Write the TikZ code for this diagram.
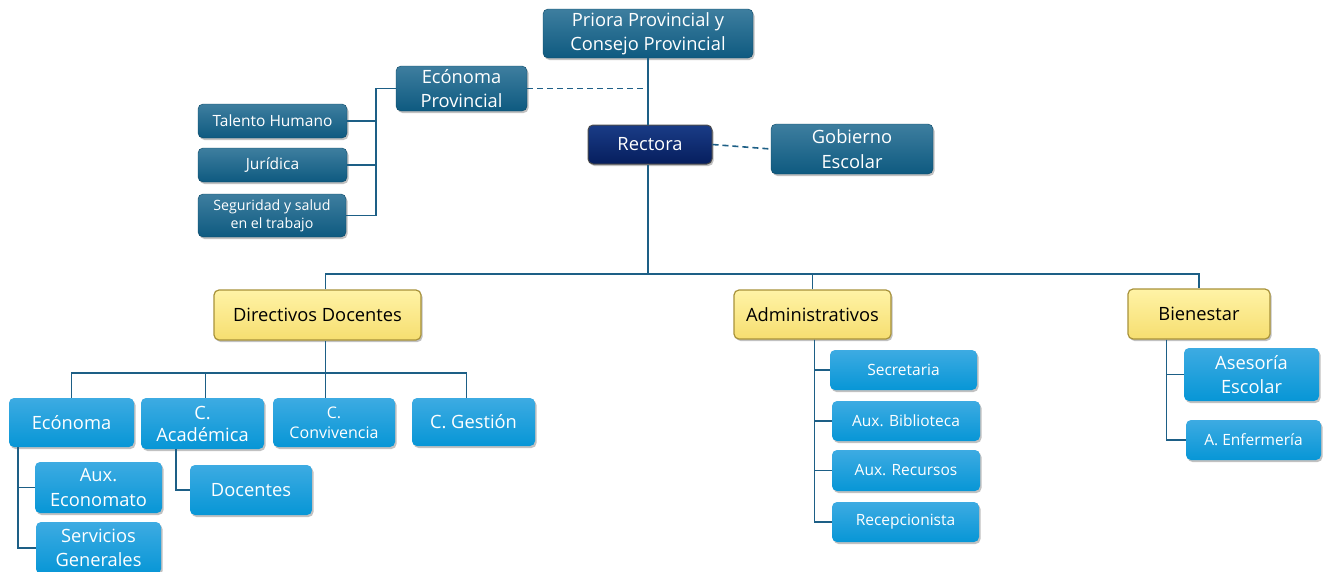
\documentclass[tikz,border=0pt]{standalone}
\usepackage{fontspec}
\setmainfont{Open Sans}
\usetikzlibrary{shadows}
\definecolor{tealtop}{HTML}{3E7E9F}
\definecolor{tealbot}{HTML}{0E5A80}
\definecolor{navytop}{HTML}{1A3C86}
\definecolor{navybot}{HTML}{061E5E}
\definecolor{yeltop}{HTML}{FFF3A6}
\definecolor{yelbot}{HTML}{F6DE70}
\definecolor{yelborder}{HTML}{A8923A}
\definecolor{bluetop}{HTML}{3DABE2}
\definecolor{bluebot}{HTML}{0796D6}
\definecolor{linecol}{HTML}{1D5F86}
\tikzset{
  boxbase/.style={rounded corners=5pt, align=center, inner sep=0pt,
    drop shadow={shadow xshift=1.5pt, shadow yshift=-2pt, opacity=0.35, fill=black!70}},
  tealbox/.style={boxbase, top color=tealtop, bottom color=tealbot, draw=tealbot!80!black, text=white},
  navybox/.style={boxbase, top color=navytop, bottom color=navybot, draw=black!70, line width=1pt, text=white},
  yelbox/.style={boxbase, top color=yeltop, bottom color=yelbot, draw=yelborder, line width=1.2pt, text=black},
  bluebox/.style={boxbase, top color=bluetop, bottom color=bluebot, draw=none, text=white},
  conn/.style={draw=linecol, line width=1.6pt},
  dashconn/.style={draw=linecol, line width=1.6pt, dash pattern=on 6pt off 4pt},
  fbig/.style={font=\fontsize{18.3}{24.5}\selectfont},
  facad/.style={font=\fontsize{18.3}{22}\selectfont},
  fmid/.style={font=\fontsize{16}{20}\selectfont},
  fsmall/.style={font=\fontsize{15.5}{18}\selectfont},
  fxs/.style={font=\fontsize{14.2}{18}\selectfont},
}
\begin{document}
\begin{tikzpicture}[x=1pt,y=-1pt]
\useasboundingbox (0,0) rectangle (1327,571);
% top part
\node[tealbox, fbig, minimum width=210pt, minimum height=49pt] (priora) at (648,33.5) {Priora Provincial y\\Consejo Provincial};
\node[tealbox, fbig, minimum width=131pt, minimum height=45pt] (econprov) at (461.5,88.5) {Ecónoma\\Provincial};
\node[tealbox, fsmall, minimum width=149pt, minimum height=34pt] (talento) at (272.5,121) {Talento Humano};
\node[tealbox, fsmall, minimum width=149pt, minimum height=34pt] (juridica) at (272.5,165) {Jurídica};
\node[tealbox, fxs, minimum width=148pt, minimum height=43pt] (seguridad) at (272,215.5) {Seguridad y salud\\en el trabajo};
\node[navybox, fbig, minimum width=124pt, minimum height=39pt] (rectora) at (650,144.5) {Rectora};
\node[tealbox, fbig, minimum width=162pt, minimum height=50pt] (gobierno) at (852,149) {Gobierno\\Escolar};
% level 2
\node[yelbox, fbig, minimum width=207pt, minimum height=50pt] (directivos) at (317.5,315) {Directivos Docentes};
\node[yelbox, fbig, minimum width=157pt, minimum height=49pt] (admin) at (812.5,314.5) {Administrativos};
\node[yelbox, fbig, minimum width=142pt, minimum height=50pt] (bienestar) at (1199,314) {Bienestar};
% directivos children
\node[bluebox, fbig, minimum width=125pt, minimum height=49pt] (economa) at (71.5,422.5) {Ecónoma};
\node[bluebox, facad, minimum width=123pt, minimum height=51pt] (academica) at (202.5,423.5) {C.\\Académica};
\node[bluebox, fmid, minimum width=122pt, minimum height=49pt] (convivencia) at (334,422.5) {C.\\Convivencia};
\node[bluebox, fbig, minimum width=123pt, minimum height=48pt] (gestion) at (473.5,422) {C. Gestión};
\node[bluebox, fbig, minimum width=127pt, minimum height=51pt] (auxecon) at (98.5,487.5) {Aux.\\Economato};
\node[bluebox, fbig, minimum width=125pt, minimum height=52pt] (servicios) at (98.5,548) {Servicios\\Generales};
\node[bluebox, fbig, minimum width=122pt, minimum height=50pt] (docentes) at (251,490) {Docentes};
% admin children
\node[bluebox, fsmall, minimum width=147pt, minimum height=40pt] (secretaria) at (903.5,370) {Secretaria};
\node[bluebox, fsmall, minimum width=148pt, minimum height=40pt] (biblioteca) at (906,421) {Aux. Biblioteca};
\node[bluebox, fsmall, minimum width=148pt, minimum height=41pt] (recursos) at (906,470.5) {Aux. Recursos};
\node[bluebox, fsmall, minimum width=147pt, minimum height=40pt] (recepcion) at (905.5,522) {Recepcionista};
% bienestar children
\node[bluebox, fbig, minimum width=135pt, minimum height=53pt] (asesoria) at (1251.5,374.5) {Asesoría\\Escolar};
\node[bluebox, fsmall, minimum width=135pt, minimum height=40pt] (enfermeria) at (1253.5,440) {A. Enfermería};
% connectors
\draw[conn] (priora.south) -- (priora.south |- rectora.north);
\draw[dashconn] (econprov.east) -- (econprov.east -| priora.south);
\draw[dashconn] (rectora.east) -- (gobierno.west);
\coordinate (epbus) at (376,0);
\draw[conn] (econprov.west) -- (econprov.west -| epbus) |- (seguridad.east);
\draw[conn] (econprov.west -| epbus) |- (talento.east);
\draw[conn] (econprov.west -| epbus) |- (juridica.east);
\coordinate (rbus) at (0,274);
\coordinate (dx) at ([xshift=8pt]directivos.north);
\draw[conn] (priora.south |- rectora.south) -- (priora.south |- rbus);
\draw[conn] (dx) -- (dx |- rbus) -| (bienestar.north);
\draw[conn] (admin.north) -- (admin.north |- rbus);
\coordinate (dbus) at (0,373);
\coordinate (dxs) at ([xshift=8pt]directivos.south);
\draw[conn] (dxs) -- (dxs |- convivencia.north);
\draw[conn] (economa.north) -- (economa.north |- dbus) -| ([xshift=-7pt]gestion.north);
\draw[conn] ([xshift=3pt]academica.north) -- ([xshift=3pt]academica.north |- dbus);
\draw[conn] ([xshift=9pt]economa.south west) |- (servicios.west);
\draw[conn] ([xshift=9pt]economa.south west) |- (auxecon.west);
\draw[conn] ([xshift=35pt]academica.south west) |- (docentes.west);
\draw[conn] ([xshift=2pt]admin.south) |- (recepcion.west);
\draw[conn] ([xshift=2pt]admin.south) |- (secretaria.west);
\draw[conn] ([xshift=2pt]admin.south) |- (biblioteca.west);
\draw[conn] ([xshift=2pt]admin.south) |- (recursos.west);
\draw[conn] ([xshift=39pt]bienestar.south west) |- (enfermeria.west);
\draw[conn] ([xshift=39pt]bienestar.south west) |- (asesoria.west);
\end{tikzpicture}
\end{document}
